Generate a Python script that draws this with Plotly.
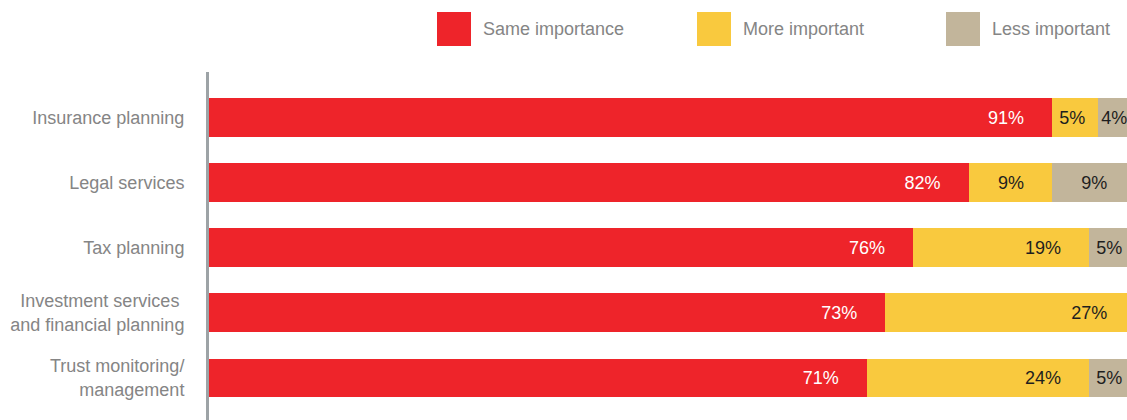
import plotly.graph_objects as go

# Survey results: share of respondents per service area
categories = [
    "Insurance planning",
    "Legal services",
    "Tax planning",
    "Investment services\u00a0<br>and financial planning",
    "Trust monitoring/<br>management",
]
series_names = ["Same importance", "More important", "Less important"]
same_importance = [91, 82, 76, 73, 71]
more_important = [5, 9, 19, 27, 24]
less_important = [4, 9, 5, 0, 5]

values = [same_importance, more_important, less_important]
colors = ["#EE242A", "#F9C93E", "#C2B59B"]
text_colors = ["#FFFFFF", "#1E1E1E", "#1E1E1E"]

FONT = "Arial, Liberation Sans, sans-serif"
W, H = 1127, 420
ML, MR, MT, MB = 209, 0, 72, 0


def label(v):
    # right-side padding inside the segment, tighter for narrow segments
    pad = 5 if v >= 9 else max(0, v - 3)
    return f"{v}%" + "\u00a0" * pad if v > 0 else ""


fig = go.Figure()
for name, vals, col, tcol in zip(series_names, values, colors, text_colors):
    fig.add_trace(go.Bar(
        y=categories,
        x=vals,
        name=name,
        orientation="h",
        marker=dict(color=col, line=dict(width=0)),
        text=[label(v) for v in vals],
        textposition="inside",
        insidetextanchor="end",
        textangle=0,
        constraintext="none",
        textfont=dict(family=FONT, size=18, color=tcol),
        hoverinfo="skip",
        showlegend=False,
    ))


def px_x(px):
    return (px - ML) / (W - ML - MR)


def px_y(py):
    return (H - MB - py) / (H - MT - MB)


# Legend drawn as large swatches with labels above the plot
legend_x = [437, 697, 946]
shapes = []
annotations = []
for name, col, lx in zip(series_names, colors, legend_x):
    shapes.append(dict(
        type="rect", xref="paper", yref="paper",
        x0=px_x(lx), x1=px_x(lx + 34), y0=px_y(46), y1=px_y(12),
        fillcolor=col, line=dict(width=0), layer="above",
    ))
    annotations.append(dict(
        xref="paper", yref="paper", x=px_x(lx + 44), y=px_y(29),
        xanchor="left", yanchor="middle", showarrow=False,
        text=name, font=dict(family=FONT, size=18, color="#858585"),
    ))

fig.update_layout(
    width=W, height=H,
    margin=dict(l=ML, r=MR, t=MT, b=MB, pad=0),
    barmode="stack",
    bargap=0.41,
    paper_bgcolor="white",
    plot_bgcolor="white",
    font=dict(family=FONT, size=18, color="#858585"),
    shapes=shapes,
    annotations=annotations,
    xaxis=dict(
        range=[0, 99.1],
        showgrid=False, zeroline=False, showticklabels=False,
        showline=False, fixedrange=True,
    ),
    yaxis=dict(
        type="category",
        categoryorder="array", categoryarray=categories,
        range=[4.65, -0.7],
        showgrid=False, zeroline=False,
        showline=True, linecolor="#9DA3A6", linewidth=3,
        ticks="", ticklabelstandoff=18,
        tickfont=dict(family=FONT, size=18, color="#858585"),
        fixedrange=True,
    ),
)

fig.write_html("out.html")
